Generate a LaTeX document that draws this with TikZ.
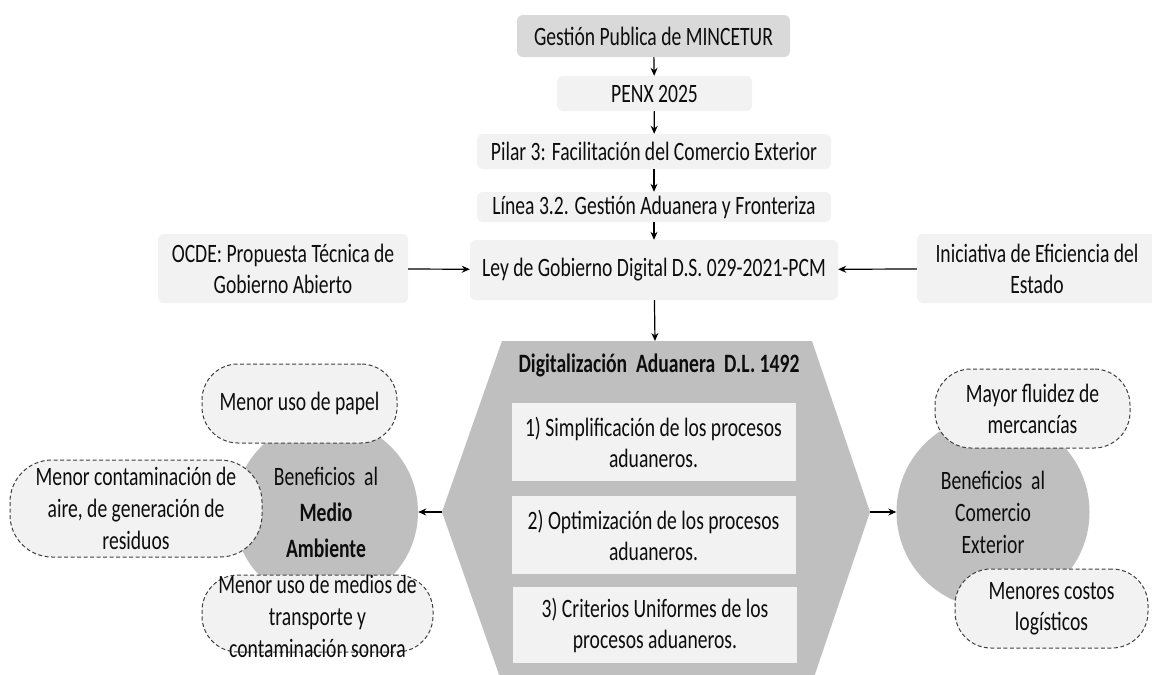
\documentclass[tikz,border=0pt]{standalone}
\usepackage{fontspec}
\setmainfont{Carlito}[FakeStretch=0.74]
\usetikzlibrary{arrows.meta}
\definecolor{gA}{HTML}{D9D9D9}
\definecolor{gB}{HTML}{F2F2F2}
\definecolor{gC}{HTML}{BFBFBF}
\definecolor{dashc}{HTML}{404040}
\definecolor{txt}{HTML}{0D0D0D}
\tikzset{
  base/.style={font=\fontsize{26.5}{31}\selectfont, align=center, inner sep=0pt, text=txt},
  pbox/.style={base, fill=gB, rounded corners=6pt},
  ibox/.style={base, fill=gB, minimum width=284pt},
  dbox/.style={base, fill=gB, draw=dashc, line width=1pt, dash pattern=on 4pt off 2.5pt, rounded corners=36pt},
  arr/.style={-{Stealth[length=8pt,width=7pt]}, line width=1.2pt, black},
  circ/.style={base, circle, fill=gC},
}
\begin{document}
\begin{tikzpicture}[x=1pt,y=-1pt]
\useasboundingbox (0,0) rectangle (1152,675);
\fill[white] (0,0) rectangle (1152,675);

% top chain
\node[pbox, fill=gA, minimum width=273pt, minimum height=42pt] (g) at (653.5,36) {Gestión Publica de MINCETUR};
\node[pbox, minimum width=195pt, minimum height=35pt] (p) at (654.5,93.5) {PENX 2025};
\node[pbox, minimum width=354pt, minimum height=35pt] (pi) at (654,151.5) {Pilar 3: Facilitación del Comercio Exterior};
\node[pbox, minimum width=354pt, minimum height=30pt] (li) at (654,207) {Línea 3.2. Gestión Aduanera y Fronteriza};
\node[pbox, minimum width=368pt, minimum height=60pt] (ley) at (654,270) {Ley de Gobierno Digital D.S. 029-2021-PCM};
\node[pbox, minimum width=250pt, minimum height=69pt] (oc) at (283,268.5) {OCDE: Propuesta Técnica de\\Gobierno Abierto};
\node[pbox, minimum width=240pt, minimum height=69pt] (ini) at (1037,268.5) {Iniciativa de Eficiencia del\\Estado};

\draw[arr] (g) -- (p);
\draw[arr] (p) -- (pi);
\draw[arr] (pi) -- (li);
\draw[arr] (li) -- (ley);
\draw[arr] (oc) -- (ley);
\draw[arr] (ini) -- (ley);

% hexagon
\coordinate (hT) at (655,341);
\coordinate (hL) at (442,512);
\coordinate (hR) at (870,512);
\fill[gC] (502,341) -- (812,341) -- (hR) -- (812,683) -- (502,683) -- (hL) -- cycle;
\draw[arr] (ley) -- (hT);
\node[base, font=\fontsize{26.5}{31}\selectfont\bfseries] (ttl) at (659,365) {Digitalización~ Aduanera~ D.L. 1492};
\node[ibox, minimum height=78pt] (s1) at (653.5,442) {1) Simplificación de los procesos\\aduaneros.};
\node[ibox, minimum height=78pt] (s2) at (653.5,535) {2) Optimización de los procesos\\aduaneros.};
\node[ibox, minimum height=76pt, minimum width=284pt] (s3) at (655,625) {3) Criterios Uniformes de los\\procesos aduaneros.};

% circles
\node[circ, minimum size=184pt, font=\fontsize{26.5}{36}\selectfont] (cL) at (326,512) {Beneficios~ al\\\textbf{Medio}\\\textbf{Ambiente}};
\node[circ, minimum size=193pt, font=\fontsize{26.5}{32}\selectfont] (cR) at (993,512) {Beneficios~ al\\Comercio\\Exterior};
\draw[arr] (hL) -- (cL.east);
\draw[arr] (hR) -- (cR.west);

% dashed boxes left
\node[dbox, minimum width=195pt, minimum height=79pt] (pa) at (299.5,403.5) {Menor uso de papel};
\node[dbox, minimum width=252pt, minimum height=97pt, rounded corners=42pt, font=\fontsize{26.5}{32}\selectfont] (co) at (136,508.5) {Menor contaminación de\\aire, de generación de\\residuos};
\node[dbox, minimum width=231pt, minimum height=77pt] (tr) at (317.5,613.5) {};
\node[base, font=\fontsize{26.5}{32}\selectfont] (trt) at (317.5,616) {Menor uso de medios de\\transporte y\\contaminación sonora};

% dashed boxes right
\node[dbox, minimum width=195pt, minimum height=79pt] (ma) at (1032.5,408.5) {Mayor fluidez de\\mercancías};
\node[dbox, minimum width=193pt, minimum height=79pt] (me) at (1051.5,608.5) {Menores costos\\logísticos};
\end{tikzpicture}
\end{document}
